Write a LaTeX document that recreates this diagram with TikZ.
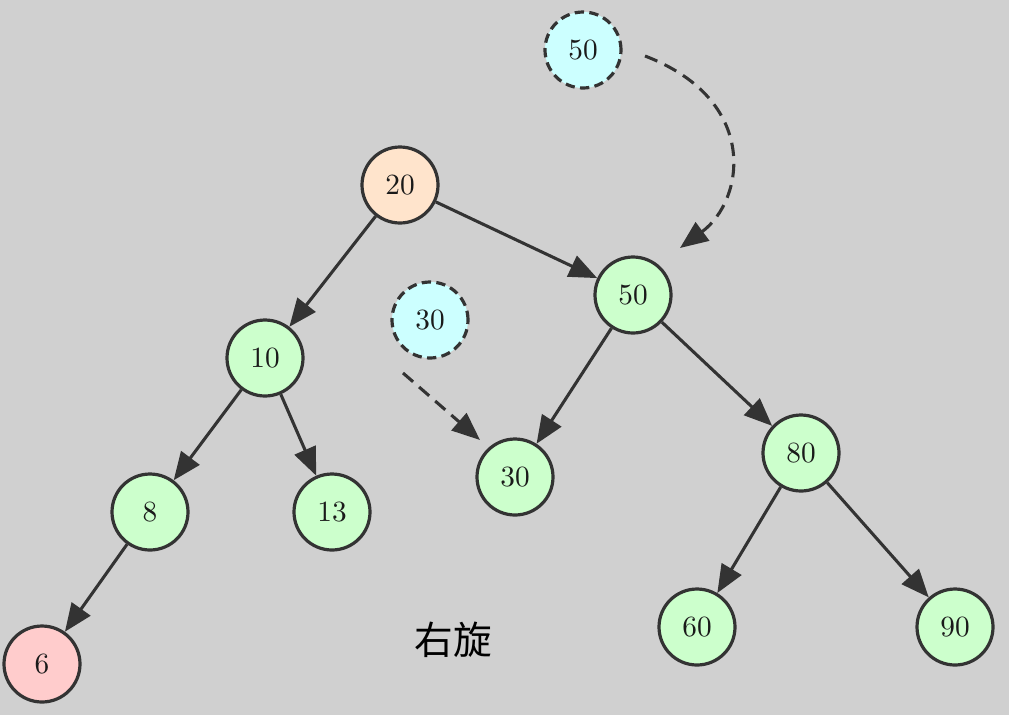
\documentclass[tikz,border=0pt]{standalone}
\usepackage{fontspec}
\setmainfont{lmroman10-regular}[Extension=.otf]
\newfontfamily\cjk{Noto Sans CJK SC}
\usetikzlibrary{arrows.meta}
\definecolor{bg}{HTML}{D0D0D0}
\definecolor{ln}{HTML}{333333}
\definecolor{tx}{HTML}{1A1A1A}
\definecolor{gn}{HTML}{CCFFCC}
\definecolor{og}{HTML}{FFE4CC}
\definecolor{pk}{HTML}{FFCCCC}
\definecolor{cy}{HTML}{CCFFFF}
\tikzset{
  tnode/.style={circle, draw=ln, line width=2.4pt, minimum size=57pt, inner sep=0pt, font=\fontsize{22}{22}\selectfont, text=tx},
  green/.style={tnode, fill=gn},
  ghost/.style={tnode, fill=cy, dashed, dash pattern=on 7pt off 4pt},
  edge/.style={draw=ln, line width=2.3pt, -{Triangle[length=21pt,width=17pt]}},
  dedge/.style={edge, dash pattern=on 10pt off 6pt}
}
\begin{document}
\begin{tikzpicture}[x=0.75pt,y=-0.75pt]
\fill[bg] (0,0) rectangle (1009,715);
\useasboundingbox (0,0) rectangle (1009,715);
\node[ghost] (g50) at (583,50) {50};
\node[tnode, fill=og] (n20) at (400,185) {20};
\node[green] (n50) at (633,295) {50};
\node[ghost] (g30) at (430,320) {30};
\node[green] (n10) at (265,358) {10};
\node[green] (n30) at (515,477) {30};
\node[green] (n80) at (801,453) {80};
\node[green] (n8) at (150,512) {8};
\node[green] (n13) at (332,512) {13};
\node[tnode, fill=pk] (n6) at (42,664) {6};
\node[green] (n60) at (697,627) {60};
\node[green] (n90) at (955,627) {90};
\node[font=\cjk\fontsize{29}{29}\selectfont, text=black] (lbl) at (453,640) {右旋};
\draw[edge] (n20) -- (n10);
\draw[edge] (n20) -- (n50);
\draw[edge] (n10) -- (n8);
\draw[edge] (n10) -- (n13);
\draw[edge] (n8) -- (n6);
\draw[edge] (n50) -- (n30);
\draw[edge] (n50) -- (n80);
\draw[edge] (n80) -- (n60);
\draw[edge] (n80) -- (n90);
\coordinate (a1) at (645,56);
\coordinate (a2) at (680,248);
\coordinate (b1) at (403,373);
\coordinate (b2) at (480,440);
\draw[dedge] (a1) .. controls (760,100) and (745,200) .. (a2);
\draw[dedge] (b1) -- (b2);
\end{tikzpicture}
\end{document}
